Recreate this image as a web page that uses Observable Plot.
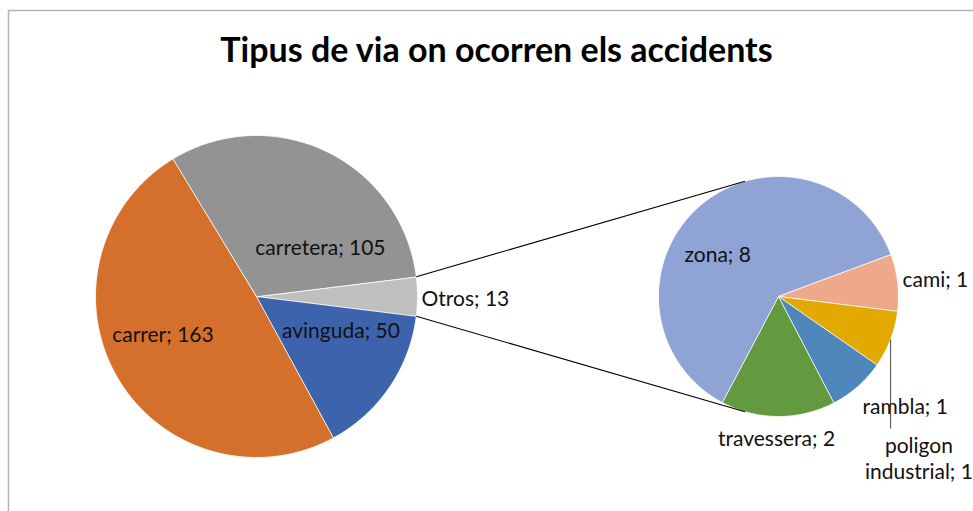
<!DOCTYPE html>
<html><head><meta charset="utf-8">
<script src="https://cdn.jsdelivr.net/npm/d3@7"></script>
<script src="https://cdn.jsdelivr.net/npm/@observablehq/plot@0.6"></script>
<style>html,body{margin:0;padding:0;background:#fff;overflow:hidden} svg{display:block}</style>
</head><body><div id="chart"></div>
<script>
// ---- data ----
const title = "Tipus de via on ocorren els accidents";
const mainNames = ["carrer", "carretera", "avinguda", "Otros"];
const mainValues = [163, 105, 50, 13];
const subNames = ["zona", "cami", "poligon industrial", "rambla", "travessera"];
const subValues = [8, 1, 1, 1, 2];

// ---- styles / layout ----
const mainColors = ["#D4702B", "#939393", "#3C63AB", "#BFBFBF"];
const subColors = ["#8FA3D4", "#F0A88A", "#E2AA00", "#4F87BD", "#63993F"];
const W = 973, H = 511;
const FONT = "Lato, 'Open Sans', sans-serif";
const mainPie = {cx: 256, cy: 296, r: 161, order: ["Otros", "avinguda", "carrer", "carretera"]};
const subPie = {cx: 778, cy: 296, r: 120, order: ["cami", "poligon industrial", "rambla", "travessera", "zona"], startDeg: 69.4};
// label placement: angle (deg, clockwise from 12 o'clock), radius fraction, anchor
const labelLayout = {
  "carretera": {angle: 52, k: 0.504, anchor: "middle"},
  "carrer": {angle: 248.4, k: 0.625, anchor: "middle"},
  "avinguda": {angle: 111.3, k: 0.563, anchor: "middle"},
  "Otros": {angle: 90.5, k: 1.025, anchor: "start"},
  "zona": {angle: 305.2, k: 0.62, anchor: "middle"},
  "cami": {angle: 81.7, k: 1.044, anchor: "start"},
  "travessera": {angle: 180.8, k: 1.175, anchor: "middle"},
  "rambla": {angle: 142.4, k: 1.147, anchor: "start"},
  "poligon industrial": {angle: 138.9, k: 1.78, anchor: "middle", wrap: true, leaderTo: 428}
};

const rad = d => d * Math.PI / 180;
const pt = (p, a, k = 1) => [p.cx + k * p.r * Math.sin(a), p.cy - k * p.r * Math.cos(a)];

function slices(names, values, p, start) {
  const ordered = p.order.map(n => ({name: n, value: values[names.indexOf(n)]}));
  return d3.pie().sort(null).value(d => d.value).startAngle(start).endAngle(start + 2 * Math.PI)(ordered)
    .map(a => ({name: a.data.name, value: a.data.value, a0: a.startAngle, a1: a.endAngle, mid: (a.startAngle + a.endAngle) / 2}));
}
function polys(p, sl) {
  const rows = [];
  for (const s of sl) {
    rows.push({name: s.name, x: p.cx, y: p.cy});
    const n = Math.max(2, Math.ceil((s.a1 - s.a0) / rad(1)));
    for (let i = 0; i <= n; i++) {
      const [x, y] = pt(p, s.a0 + (s.a1 - s.a0) * i / n);
      rows.push({name: s.name, x, y});
    }
  }
  return rows;
}
function tangent(p, ex, ey, sign) {
  const dx = ex - p.cx, dy = ey - p.cy;
  const d = Math.hypot(dx, dy);
  const th = Math.atan2(dx, -dy);
  return pt(p, th + sign * Math.acos(p.r / d));
}

const total = d3.sum(mainValues);
const otrosAng = mainValues[mainNames.indexOf("Otros")] / total * 2 * Math.PI;
const mainSl = slices(mainNames, mainValues, mainPie, Math.PI / 2 - otrosAng / 2);
const subSl = slices(subNames, subValues, subPie, rad(subPie.startDeg));

const shapes = [...polys(mainPie, mainSl), ...polys(subPie, subSl)];

const otros = mainSl.find(s => s.name === "Otros");
const [ax, ay] = pt(mainPie, otros.a0);
const [bx, by] = pt(mainPie, otros.a1);
const [tx, ty] = tangent(subPie, ax, ay, 1);
const [ux, uy] = tangent(subPie, bx, by, -1);
const connectors = [{x1: ax, y1: ay, x2: tx, y2: ty}, {x1: bx, y1: by, x2: ux, y2: uy}];

const labels = [];
const leaders = [];
for (const [p, sl] of [[mainPie, mainSl], [subPie, subSl]]) {
  for (const s of sl) {
    const L = labelLayout[s.name];
    const [x, y] = pt(p, rad(L.angle), L.k);
    let text = `${s.name}; ${s.value}`;
    if (L.wrap) text = text.replace(" ", "\n");
    labels.push({text, x, y, anchor: L.anchor});
    if (L.leaderTo) {
      const [lx, ly] = pt(p, s.mid, 1);
      leaders.push({x1: lx, y1: ly, x2: lx, y2: L.leaderTo});
    }
  }
}

const chart = Plot.plot({
  width: W, height: H, margin: 0,
  x: {domain: [0, W], range: [0, W], axis: null},
  y: {domain: [0, H], range: [0, H], axis: null},
  color: {domain: [...mainNames, ...subNames], range: [...mainColors, ...subColors]},
  style: {background: "#fff"},
  marks: [
    Plot.ruleY([10], {x1: 8, x2: W, stroke: "#b4b4b4", strokeWidth: 1.5}),
    Plot.ruleX([8], {y1: 10, y2: H, stroke: "#b4b4b4", strokeWidth: 1.5}),
    Plot.line(shapes, {x: "x", y: "y", z: "name", fill: "name", stroke: "#fff", strokeWidth: 0.8, curve: "linear-closed"}),
    Plot.link(connectors, {x1: "x1", y1: "y1", x2: "x2", y2: "y2", stroke: "#000", strokeWidth: 1.1}),
    Plot.link(leaders, {x1: "x1", y1: "y1", x2: "x2", y2: "y2", stroke: "#595959", strokeWidth: 1.1}),
    Plot.text(labels.filter(d => d.anchor === "middle"), {x: "x", y: "y", text: "text", textAnchor: "middle", fontSize: 21, fontFamily: FONT, fill: "#111", lineHeight: 1.25}),
    Plot.text(labels.filter(d => d.anchor === "start"), {x: "x", y: "y", text: "text", textAnchor: "start", fontSize: 21, fontFamily: FONT, fill: "#111", lineHeight: 1.25}),
    Plot.text([title], {x: 496, y: 51, text: d => d, fontSize: 34, fontWeight: "bold", fontFamily: FONT, fill: "#000"})
  ]
});
document.getElementById("chart").append(chart);
</script>
</body></html>
